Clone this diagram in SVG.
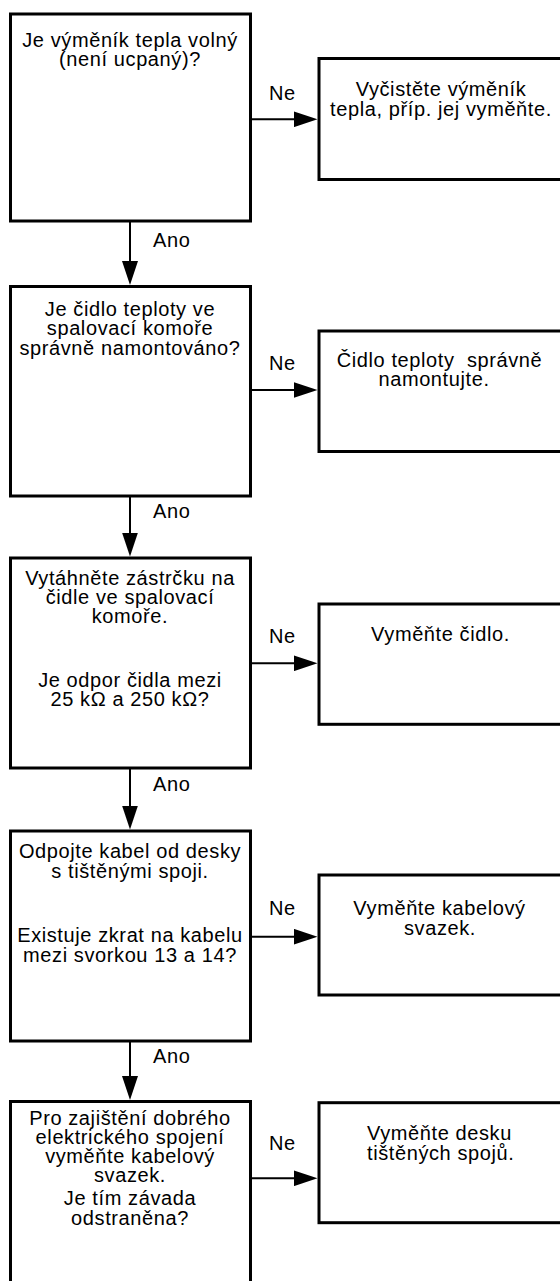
<svg xmlns="http://www.w3.org/2000/svg" width="560" height="1281" viewBox="0 0 560 1281">
<style>
.box{fill:#fff;stroke:#000;stroke-width:3}
.con{fill:none;stroke:#000;stroke-width:2}
text{font-family:"Liberation Sans",Arial,Helvetica,sans-serif;font-size:20px;fill:#000;letter-spacing:0.6px}
.c{text-anchor:middle}
</style>
<defs>
<marker id="ah" markerUnits="userSpaceOnUse" viewBox="0 0 24 16" refX="14" refY="8" markerWidth="24" markerHeight="16" orient="auto">
<path d="M0,0 L24,8 L0,16 Z" fill="#000"/>
</marker>
</defs>
<rect width="560" height="1281" fill="#fff"/>
<g id="connectors">
<path class="con" d="M130,221 V275" marker-end="url(#ah)"/>
<path class="con" d="M130,496 V546.5" marker-end="url(#ah)"/>
<path class="con" d="M130,768 V819.5" marker-end="url(#ah)"/>
<path class="con" d="M130,1041 V1090" marker-end="url(#ah)"/>
<path class="con" d="M252,119.3 H307.5" marker-end="url(#ah)"/>
<path class="con" d="M252,390 H307.5" marker-end="url(#ah)"/>
<path class="con" d="M252,663.3 H307.5" marker-end="url(#ah)"/>
<path class="con" d="M252,936.7 H307.5" marker-end="url(#ah)"/>
<path class="con" d="M252,1178.3 H307.5" marker-end="url(#ah)"/>
<text x="153" y="246.7">Ano</text>
<text x="153" y="518">Ano</text>
<text x="153" y="791">Ano</text>
<text x="153" y="1063">Ano</text>
<text x="269" y="100">Ne</text>
<text x="269" y="370">Ne</text>
<text x="269" y="643">Ne</text>
<text x="269" y="915">Ne</text>
<text x="269" y="1150">Ne</text>
</g>
<g id="q1">
<rect class="box" x="10.5" y="14" width="240" height="207"/>
<text class="c" x="130" y="46.7">Je výměník tepla volný</text>
<text class="c" x="130" y="65.7">(není ucpaný)?</text>
</g>
<g id="a1">
<rect class="box" x="319" y="58.5" width="260" height="121"/>
<text class="c" x="441" y="96">Vyčistěte výměník</text>
<text class="c" x="441" y="116">tepla, příp. jej vyměňte.</text>
</g>
<g id="q2">
<rect class="box" x="10.5" y="286.5" width="240" height="209.5"/>
<text class="c" x="130" y="315.5">Je čidlo teploty ve</text>
<text class="c" x="130" y="335">spalovací komoře</text>
<text class="c" x="130" y="354.5">správně namontováno?</text>
</g>
<g id="a2">
<rect class="box" x="319" y="331" width="260" height="120.5"/>
<text class="c" x="439.5" y="366.7" xml:space="preserve">Čidlo teploty  správně</text>
<text class="c" x="434" y="386">namontujte.</text>
</g>
<g id="q3">
<rect class="box" x="10.5" y="558" width="240" height="210"/>
<text class="c" x="130" y="585">Vytáhněte zástrčku na</text>
<text class="c" x="130" y="604">čidle ve spalovací</text>
<text class="c" x="130" y="622.5">komoře.</text>
<text class="c" x="130" y="686.5">Je odpor čidla mezi</text>
<text class="c" x="130" y="706">25 kΩ a 250 kΩ?</text>
</g>
<g id="a3">
<rect class="box" x="319" y="604" width="260" height="120.3"/>
<text class="c" x="440.5" y="640.7">Vyměňte čidlo.</text>
</g>
<g id="q4">
<rect class="box" x="10.5" y="831" width="240" height="210"/>
<text class="c" x="130" y="858.3">Odpojte kabel od desky</text>
<text class="c" x="130" y="878">s tištěnými spoji.</text>
<text class="c" x="130" y="941.7">Existuje zkrat na kabelu</text>
<text class="c" x="130" y="961.7">mezi svorkou 13 a 14?</text>
</g>
<g id="a4">
<rect class="box" x="319" y="875" width="260" height="120"/>
<text class="c" x="439.5" y="915">Vyměňte kabelový</text>
<text class="c" x="440" y="935">svazek.</text>
</g>
<g id="q5">
<rect class="box" x="10.5" y="1101.5" width="240" height="200"/>
<text class="c" x="130" y="1125">Pro zajištění dobrého</text>
<text class="c" x="130" y="1144">elektrického spojení</text>
<text class="c" x="130" y="1163">vyměňte kabelový</text>
<text class="c" x="130" y="1182">svazek.</text>
<text class="c" x="130" y="1205">Je tím závada</text>
<text class="c" x="130" y="1224.5">odstraněna?</text>
</g>
<g id="a5">
<rect class="box" x="319" y="1102.7" width="260" height="120"/>
<text x="367" y="1140">Vyměňte desku</text>
<text x="367" y="1160">tištěných spojů.</text>
</g>
</svg>
